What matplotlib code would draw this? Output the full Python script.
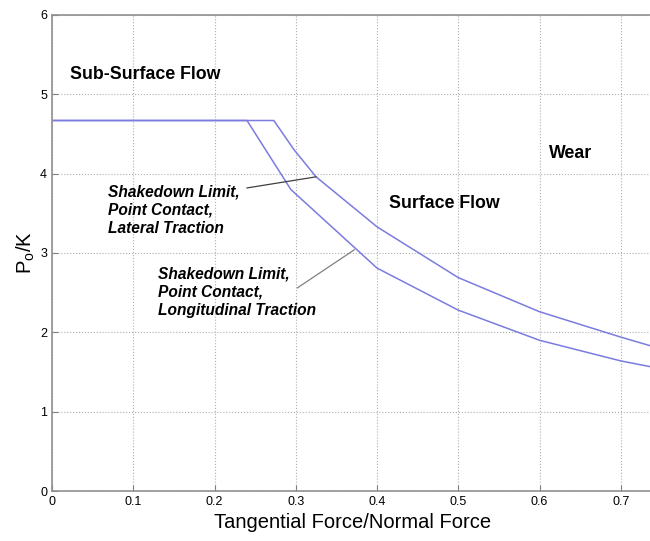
import matplotlib
matplotlib.use("Agg")
import matplotlib.pyplot as plt

plt.rcParams['font.family'] = ['Liberation Sans', 'DejaVu Sans']

# Shakedown limit, lateral traction (upper curve)
lat_x = [0.0, 0.273, 0.298, 0.325, 0.4, 0.5, 0.6, 0.7, 0.74]
lat_y = [4.67, 4.67, 4.30, 3.96, 3.33, 2.69, 2.26, 1.94, 1.82]
# Shakedown limit, longitudinal traction (lower curve)
lon_x = [0.0, 0.24, 0.294, 0.4, 0.5, 0.6, 0.7, 0.74]
lon_y = [4.67, 4.67, 3.80, 2.81, 2.28, 1.90, 1.64, 1.56]

xticks = [0, 0.1, 0.2, 0.3, 0.4, 0.5, 0.6, 0.7]
xticklabels = ['0', '0.1', '0.2', '0.3', '0.4', '0.5', '0.6', '0.7']
yticks = [0, 1, 2, 3, 4, 5, 6]

fig = plt.figure(figsize=(6.5, 5.41), dpi=100)
ax = fig.add_axes([0.08, 0.0924, 0.925, 0.8799])

line_color = '#7b7be0'
ax.plot(lat_x, lat_y, color=line_color, lw=1.1)
ax.plot(lon_x, lon_y, color=line_color, lw=1.1)

ax.set_xlim(0, 0.74)
ax.set_ylim(0, 6)
ax.set_xticks(xticks)
ax.set_xticklabels(xticklabels)
ax.set_yticks(yticks)
ax.grid(True, linestyle=':', color='#b0b0b0', lw=0.8)
ax.tick_params(direction='in', labelsize=9, length=4, color='#808080')
for s in ['left', 'bottom', 'top']:
    ax.spines[s].set_color('#909090')
    ax.spines[s].set_linewidth(1.2)
ax.spines['right'].set_visible(False)

ax.set_xlabel('Tangential Force/Normal Force', fontsize=14.5, labelpad=4)
ax.set_ylabel(r'P$_{\mathregular{o}}$/K', fontsize=14.5, labelpad=2)

ax.text(0.022, 5.25, 'Sub-Surface Flow', fontsize=12.8, fontweight='bold', va='center')
ax.text(0.612, 4.26, 'Wear', fontsize=12.8, fontweight='bold', va='center')
ax.text(0.415, 3.63, 'Surface Flow', fontsize=12.8, fontweight='bold', va='center')

ax.text(0.069, 3.54, 'Shakedown Limit,\nPoint Contact,\nLateral Traction',
        fontsize=11.2, style='italic', fontweight='semibold', va='center', linespacing=1.28)
ax.text(0.131, 2.51, 'Shakedown Limit,\nPoint Contact,\nLongitudinal Traction',
        fontsize=11.2, style='italic', fontweight='semibold', va='center', linespacing=1.28)

ax.plot([0.24, 0.325], [3.82, 3.96], color='#404040', lw=0.9)
ax.plot([0.302, 0.372], [2.56, 3.04], color='#808080', lw=0.9)

fig.savefig('out.png', dpi=100)
